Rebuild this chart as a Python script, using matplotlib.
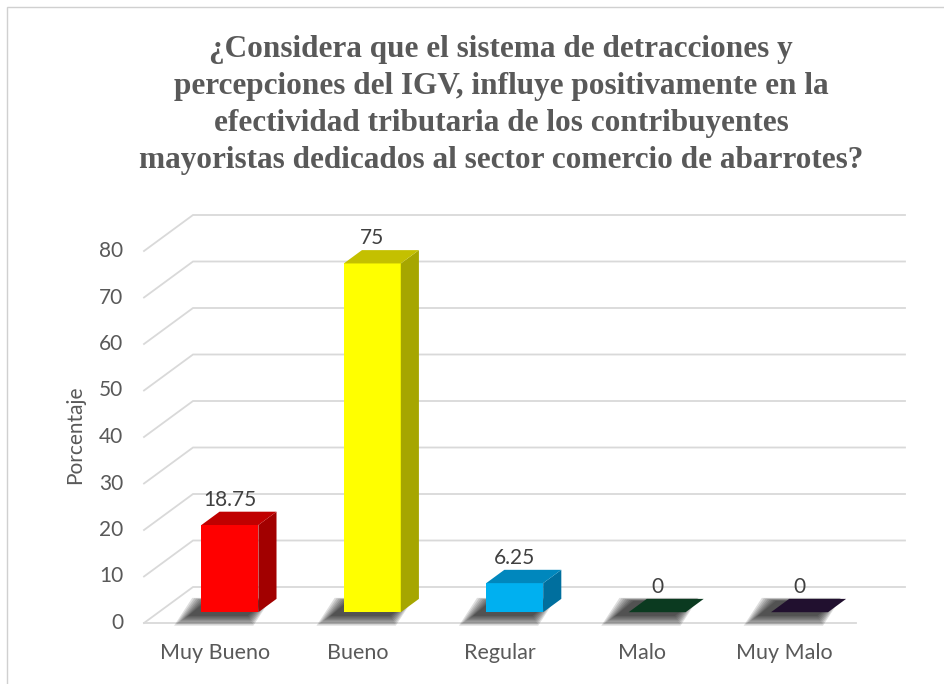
import matplotlib.pyplot as plt
from matplotlib.patches import Polygon, Rectangle

categories = ["Muy Bueno", "Bueno", "Regular", "Malo", "Muy Malo"]
values = [18.75, 75, 6.25, 0, 0]
value_labels = ["18.75", "75", "6.25", "0", "0"]
yticks = [0, 10, 20, 30, 40, 50, 60, 70, 80]
front_colors = ["#ff0000", "#ffff00", "#00b0f0", "#0b3a20", "#21102f"]
top_colors = ["#c00000", "#c4c000", "#0087bd", "#0b3a20", "#21102f"]
side_colors = ["#a20000", "#a6a600", "#006f9e", "#082a17", "#180b22"]

title = ("¿Considera que el sistema de detracciones y\n"
         "percepciones del IGV, influye positivamente en la\n"
         "efectividad tributaria de los contribuyentes\n"
         "mayoristas dedicados al sector comercio de abarrotes?")

W, H = 944, 684
PX_CAT, PX_VAL = 142.4, 4.65       # pixels per category / per percent
X0_PX, Y0_PX = 144, 623            # front-left corner of the floor
DX, DY = 49 / PX_CAT, 36 / PX_VAL  # depth of the 3d box in data units
D0, D1 = 0.30, 0.67                # bar depth range (fraction of box depth)
BAR_W = 0.4
GRID = "#d9d9d9"
TXT = "#595959"
FS = 15

fig = plt.figure(figsize=(W / 100, H / 100), dpi=100)
ax = fig.add_axes([0, 0, 1, 1])
ax.set_xlim(-0.5 - X0_PX / PX_CAT, -0.5 + (W - X0_PX) / PX_CAT)
ax.set_ylim((Y0_PX - H) / PX_VAL, Y0_PX / PX_VAL)
ax.axis("off")

fig.patches.append(Rectangle((7 / W, -0.1), 1.2, 1 - 7 / H + 0.1, transform=fig.transFigure,
                             fill=False, edgecolor="#d0d0d0", lw=1.0))

n = len(categories)
left, right = -0.5, n - 0.5

# back wall grid + left wall diagonals
for v in yticks:
    ax.plot([left, left + DX, right + DX], [v, v + DY, v + DY], color=GRID, lw=1.3,
            solid_joinstyle="miter", zorder=1)
    ax.text(left - 0.147, v, str(v), ha="right", va="center", fontsize=FS,
            family="Lato", color=TXT)
ax.plot([left, right], [0, 0], color=GRID, lw=1.3, zorder=1)

# soft shadows on the floor
ddx, ddy = (D1 - D0) * DX, (D1 - D0) * DY
for i, v in enumerate(values):
    x0 = i + D0 * DX - BAR_W / 2
    b = D0 * DY
    sx, sy = -0.08, -0.5
    for k in range(8):
        e = 0.014 * (8 - k)
        ey = 0.3 * (8 - k)
        pts = [(x0 + sx - e, b + sy - ey), (x0 + BAR_W + sx + e * 0.4, b + sy - ey),
               (x0 + BAR_W + sx + ddx + e * 0.4, b + sy + ddy + ey * 0.3),
               (x0 + sx + ddx - e, b + sy + ddy + ey * 0.3)]
        ax.add_patch(Polygon(pts, closed=True, facecolor="#000000", alpha=0.13,
                             edgecolor="none", zorder=2))

# bars
xs = [i + D0 * DX for i in range(n)]
ax.bar(xs, values, width=BAR_W, bottom=D0 * DY, color=front_colors, edgecolor="none", zorder=3)
for i, v in enumerate(values):
    x0 = xs[i] - BAR_W / 2
    x1 = xs[i] + BAR_W / 2
    b = D0 * DY
    t = b + v
    ax.add_patch(Polygon([(x1, b), (x1 + ddx, b + ddy), (x1 + ddx, t + ddy), (x1, t)],
                         facecolor=side_colors[i], edgecolor="none", zorder=3))
    ax.add_patch(Polygon([(x0, t), (x1, t), (x1 + ddx, t + ddy), (x0 + ddx, t + ddy)],
                         facecolor=top_colors[i], edgecolor="none", zorder=4))
    ax.text(xs[i], t + ddy + 2.6, value_labels[i], ha="center", va="center", fontsize=FS,
            family="Lato", color="#404040", zorder=5)
    ax.text(i, -6.5, categories[i], ha="center", va="center", fontsize=FS + 0.5,
            family="Lato", color=TXT)

fig.text(75 / W, 1 - 435 / H, "Porcentaje", rotation=90, ha="center", va="center",
         fontsize=FS, family="Lato", color=TXT)
fig.text(501 / W, 1 - 105 / H, title, ha="center", va="center", fontsize=22.5,
         family="Liberation Serif", weight="bold", color=TXT, linespacing=1.37)

fig.savefig("out.png", dpi=100)
